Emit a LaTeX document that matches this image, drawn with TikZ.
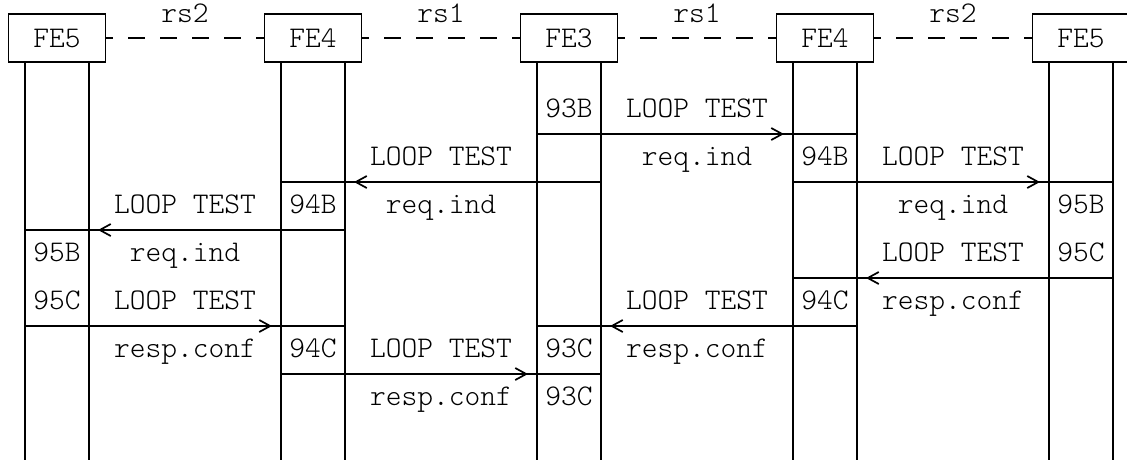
\documentclass[tikz,border=0pt]{standalone}
\usepackage{fontspec}
\setmonofont{Latin Modern Mono Light}
\usetikzlibrary{arrows.meta,calc}
\newcommand\fsz{\fontsize{30}{30}\selectfont\ttfamily}
\begin{document}
\begin{tikzpicture}[x=1pt,y=-1pt,line width=1.7pt,
  fe/.style={draw, minimum width=97pt, minimum height=48pt, inner sep=0pt, font=\fsz},
  txt/.style={anchor=base, inner sep=0pt, font=\fsz},
  rslab/.style={anchor=base, inner sep=0pt, yshift=16pt, font=\fsz},
  link/.style={dash pattern=on 17pt off 15pt, dash phase=10pt},
  msg/.style={-{Straight Barb[length=11pt,width=12pt]}},
  life/.style={}]
\useasboundingbox (0,0) rectangle (1127,459);
% entities
\node[fe] (A) at (57,38) {FE5};
\node[fe] (B) at (313,38) {FE4};
\node[fe] (C) at (569,38) {FE3};
\node[fe] (D) at (825,38) {FE4};
\node[fe] (E) at (1081,38) {FE5};
% links
\draw[link] (A.east) -- node[rslab]{rs2} (B.west);
\draw[link] (B.east) -- node[rslab]{rs1} (C.west);
\draw[link] (C.east) -- node[rslab]{rs1} (D.west);
\draw[link] (D.east) -- node[rslab]{rs2} (E.west);
% lifelines
\foreach \n in {A,B,C,D,E}{
  \coordinate (\n l) at ([xshift=-32pt]\n.south);
  \coordinate (\n r) at ([xshift=32pt]\n.south);
  \draw[life] (\n l) -- ++(0,420);
  \draw[life] (\n r) -- ++(0,420);
}
% messages
\draw (Cl |- 0,134) -- (Dr |- 0,134);
\draw[msg] (Cl |- 0,134) -- ($(Dl |- 0,134)+(-9,0)$);
\draw (Cr |- 0,182) -- (Bl |- 0,182);
\draw[msg] (Cr |- 0,182) -- ($(Br |- 0,182)+(9,0)$);
\draw (Dl |- 0,182) -- (Er |- 0,182);
\draw[msg] (Dl |- 0,182) -- ($(El |- 0,182)+(-9,0)$);
\draw (Br |- 0,230) -- (Al |- 0,230);
\draw[msg] (Br |- 0,230) -- ($(Ar |- 0,230)+(9,0)$);
\draw (Er |- 0,278) -- (Dl |- 0,278);
\draw[msg] (Er |- 0,278) -- ($(Dr |- 0,278)+(9,0)$);
\draw (Al |- 0,326) -- (Br |- 0,326);
\draw[msg] (Al |- 0,326) -- ($(Bl |- 0,326)+(-9,0)$);
\draw (Dr |- 0,326) -- (Cl |- 0,326);
\draw[msg] (Dr |- 0,326) -- ($(Cr |- 0,326)+(9,0)$);
\draw (Bl |- 0,374) -- (Cr |- 0,374);
\draw[msg] (Bl |- 0,374) -- ($(Cl |- 0,374)+(-9,0)$);
% texts
\node[txt] (t1) at (569,117) {93B};
\node[txt] (t2) at (697,117) {LOOP TEST};
\node[txt] (t3) at (441,165) {LOOP TEST};
\node[txt] (t4) at (697,165) {req.ind};
\node[txt] (t5) at (825,165) {94B};
\node[txt] (t6) at (953,165) {LOOP TEST};
\node[txt] (t7) at (185,213) {LOOP TEST};
\node[txt] (t8) at (313,213) {94B};
\node[txt] (t9) at (441,213) {req.ind};
\node[txt] (t10) at (953,213) {req.ind};
\node[txt] (t11) at (1081,213) {95B};
\node[txt] (t12) at (57,261) {95B};
\node[txt] (t13) at (185,261) {req.ind};
\node[txt] (t14) at (953,261) {LOOP TEST};
\node[txt] (t15) at (1081,261) {95C};
\node[txt] (t16) at (57,309) {95C};
\node[txt] (t17) at (185,309) {LOOP TEST};
\node[txt] (t18) at (697,309) {LOOP TEST};
\node[txt] (t19) at (825,309) {94C};
\node[txt] (t20) at (953,309) {resp.conf};
\node[txt] (t21) at (185,357) {resp.conf};
\node[txt] (t22) at (313,357) {94C};
\node[txt] (t23) at (441,357) {LOOP TEST};
\node[txt] (t24) at (569,357) {93C};
\node[txt] (t25) at (697,357) {resp.conf};
\node[txt] (t26) at (441,405) {resp.conf};
\node[txt] (t27) at (569,405) {93C};
\end{tikzpicture}
\end{document}
